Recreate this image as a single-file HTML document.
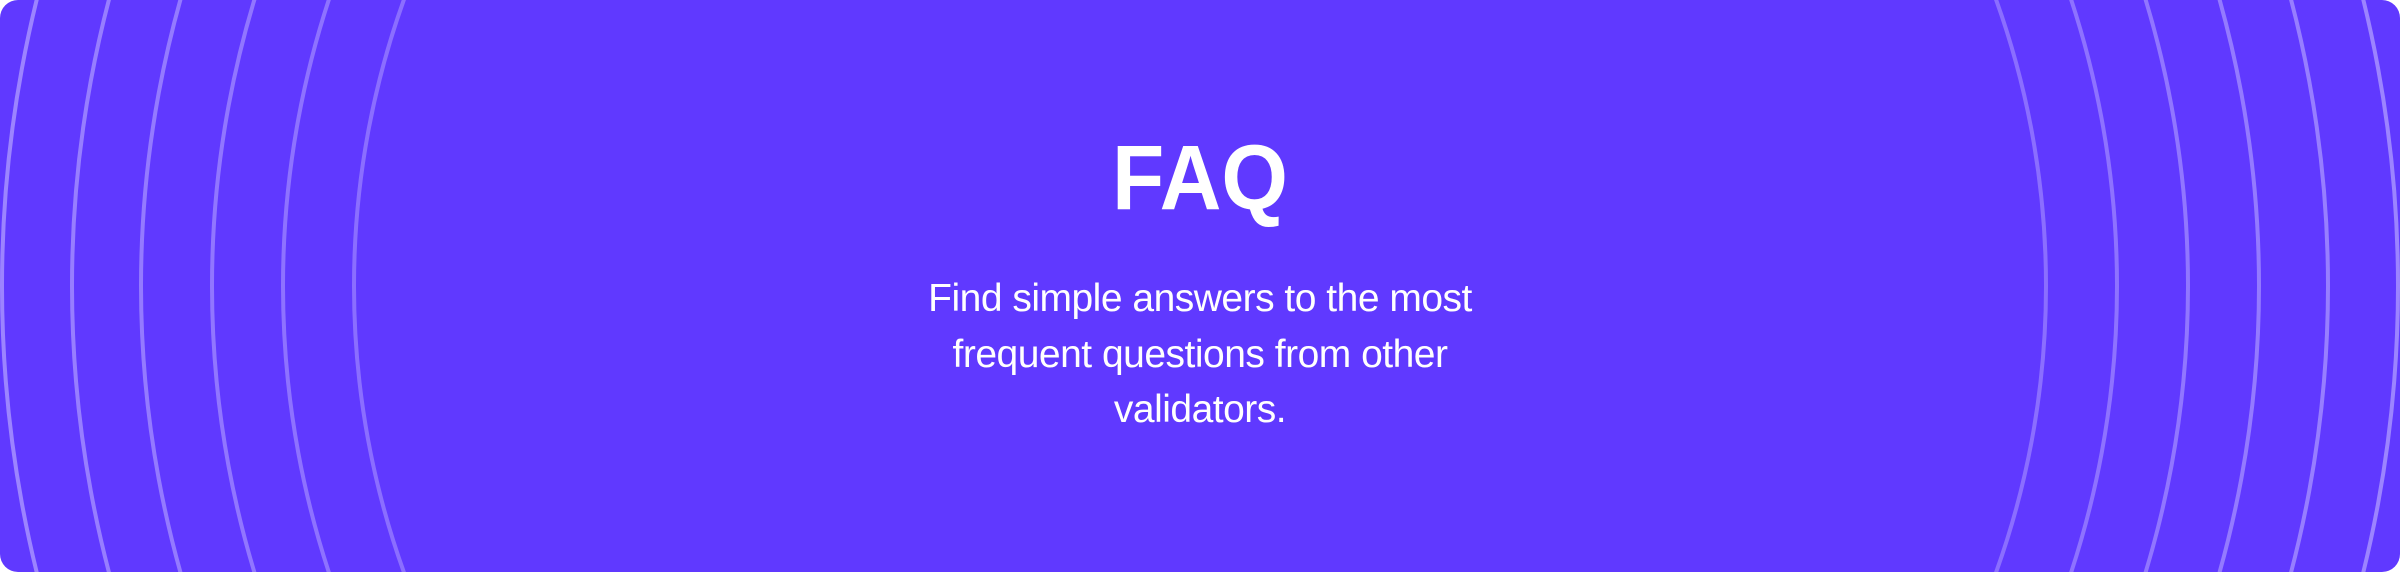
<!DOCTYPE html>
<html><head><meta charset="utf-8"><style>
html,body{margin:0;padding:0;background:#fff;width:2400px;height:572px;overflow:hidden;}
#banner{position:relative;width:2400px;height:572px;background:#6039FF;border-radius:18px;overflow:hidden;font-family:"Liberation Sans",sans-serif;color:#fff;}
svg{position:absolute;left:0;top:0;display:block;}
h1{position:absolute;left:0;width:2400px;top:128px;margin:0;text-align:center;font-size:92px;font-weight:bold;line-height:100px;letter-spacing:0px;transform:scaleX(0.93);transform-origin:1200px 0;}
p{position:absolute;left:850px;width:700px;top:271px;margin:0;text-align:center;font-size:39px;line-height:55.5px;letter-spacing:-0.5px;}
</style></head><body>
<div id="banner">
<svg id="arcs" width="2400" height="572"></svg>
<h1>FAQ</h1>
<p>Find simple answers to the most<br>frequent questions from other<br>validators.</p>
</div>
<script>
const radii=[1198,1128,1059,988,917,846];
const opac=[0.38,0.35,0.33,0.31,0.29,0.27];
const svg=document.getElementById('arcs');
radii.forEach((r,i)=>{
  const c=document.createElementNS('http://www.w3.org/2000/svg','circle');
  
  
  c.setAttribute('cx',1200);c.setAttribute('cy',286);c.setAttribute('r',r);
  c.setAttribute('fill','none');c.setAttribute('stroke','#ffffff');
  c.setAttribute('stroke-opacity',opac[i]);c.setAttribute('stroke-width',4);
  svg.appendChild(c);
});
</script>
</body></html>
